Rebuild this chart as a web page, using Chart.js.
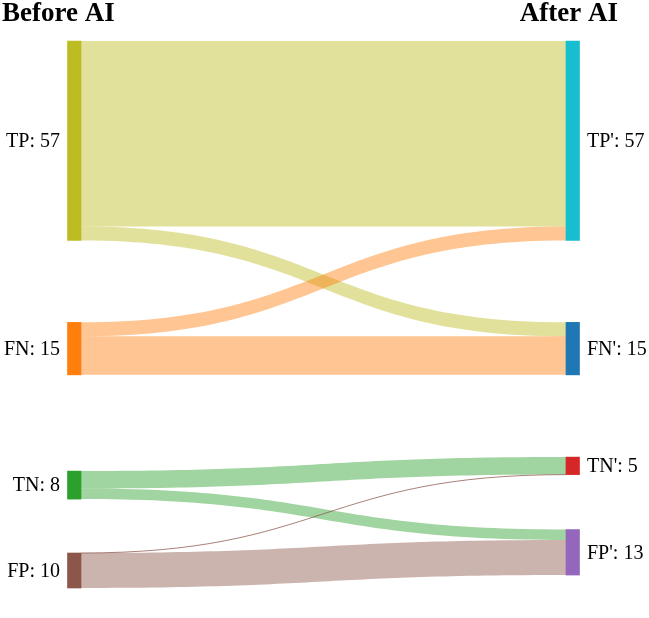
<!DOCTYPE html>
<html><head><meta charset="utf-8">
<script src="https://cdn.jsdelivr.net/npm/chart.js@4.4.1/dist/chart.umd.min.js"></script>
<style>html,body{margin:0;padding:0;background:#fff}#wrap{position:relative;width:649px;height:618px}</style>
</head><body><div id="wrap"><canvas id="c"></canvas></div>
<script>
// ---- data ----
const columnTitles = ['Before AI', 'After AI'];
const leftNodes = ['TP', 'FN', 'TN', 'FP'];
const leftValues = [57, 15, 8, 10];
const rightNodes = ["TP'", "FN'", "TN'", "FP'"];
const rightValues = [57, 15, 5, 13];
const linkSource = ['TP', 'TP', 'FN', 'FN', 'TN', 'TN', 'FP', 'FP'];
const linkTarget = ["TP'", "FN'", "TP'", "FN'", "TN'", "FP'", "TN'", "FP'"];
const linkValues = [53, 4, 4, 11, 5, 3, 0, 10];

// ---- layout / style ----
const leftGaps = [23.4, 27.5, 15.4];
const rightGaps = [23.4, 23.5, 15.7];
const leftColors = ['#bcbd22', '#ff7f0e', '#2ca02c', '#8c564b'];
const rightColors = ['#17becf', '#1f77b4', '#d62728', '#9467bd'];
const linkAlpha = 0.45;
const nodeWidth = 13.5;
const serif = '"Liberation Serif", "Times New Roman", serif';

function starts(values, gaps) {
  const out = []; let y = 0;
  values.forEach((v, i) => { out.push(y); y += v + (gaps[i] || 0); });
  return out;
}
const leftStarts = starts(leftValues, leftGaps);
const rightStarts = starts(rightValues, rightGaps);
const yMax = Math.max(leftStarts[3] + leftValues[3], rightStarts[3] + rightValues[3]);

const nodeData = [];
const nodeColors = [];
leftNodes.forEach((n, i) => { nodeData.push({x: 0, y: [leftStarts[i], leftStarts[i] + leftValues[i]]}); nodeColors.push(leftColors[i]); });
rightNodes.forEach((n, i) => { nodeData.push({x: 1, y: [rightStarts[i], rightStarts[i] + rightValues[i]]}); nodeColors.push(rightColors[i]); });

function rgba(hex, a) {
  const r = parseInt(hex.slice(1, 3), 16), g = parseInt(hex.slice(3, 5), 16), b = parseInt(hex.slice(5, 7), 16);
  return `rgba(${r},${g},${b},${a})`;
}

const sankeyPlugin = {
  id: 'sankey',
  beforeDatasetsDraw(chart) {
    const ctx = chart.ctx, xs = chart.scales.x, ys = chart.scales.y;
    const x0 = xs.getPixelForValue(0) + nodeWidth / 2;
    const x1 = xs.getPixelForValue(1) - nodeWidth / 2;
    const xm = (x0 + x1) / 2;
    const links = linkValues.map((v, i) => ({
      s: leftNodes.indexOf(linkSource[i]), t: rightNodes.indexOf(linkTarget[i]), v
    }));
    // source offsets: ordered by target
    const srcOff = leftStarts.slice();
    links.slice().sort((a, b) => a.s - b.s || a.t - b.t).forEach(l => { l.sy = srcOff[l.s]; srcOff[l.s] += l.v; });
    const tgtOff = rightStarts.slice();
    links.slice().sort((a, b) => a.t - b.t || a.s - b.s).forEach(l => { l.ty = tgtOff[l.t]; tgtOff[l.t] += l.v; });
    ctx.save();
    links.forEach(l => {
      const col = leftColors[l.s];
      const a0 = ys.getPixelForValue(l.sy), a1 = ys.getPixelForValue(l.sy + l.v);
      const b0 = ys.getPixelForValue(l.ty), b1 = ys.getPixelForValue(l.ty + l.v);
      if (l.v === 0) {
        ctx.beginPath();
        ctx.moveTo(x0, a0);
        ctx.bezierCurveTo(xm, a0, xm, b0, x1, b0);
        ctx.strokeStyle = rgba(col, 0.75);
        ctx.lineWidth = 1;
        ctx.stroke();
        return;
      }
      ctx.beginPath();
      ctx.moveTo(x0, a0);
      ctx.bezierCurveTo(xm, a0, xm, b0, x1, b0);
      ctx.lineTo(x1, b1);
      ctx.bezierCurveTo(xm, b1, xm, a1, x0, a1);
      ctx.closePath();
      ctx.fillStyle = rgba(col, linkAlpha);
      ctx.fill();
    });
    ctx.restore();
  },
  afterDatasetsDraw(chart) {
    const ctx = chart.ctx, xs = chart.scales.x, ys = chart.scales.y;
    ctx.save();
    ctx.fillStyle = '#000';
    ctx.font = '20px ' + serif;
    ctx.textBaseline = 'middle';
    ctx.textAlign = 'right';
    const lx = xs.getPixelForValue(0) - nodeWidth / 2 - 7.5;
    leftNodes.forEach((n, i) => {
      const y = ys.getPixelForValue(leftStarts[i] + leftValues[i] / 2);
      ctx.fillText(`${n}: ${leftValues[i]}`, lx, y + 1);
    });
    ctx.textAlign = 'left';
    const rx = xs.getPixelForValue(1) + nodeWidth / 2 + 7.5;
    rightNodes.forEach((n, i) => {
      const y = ys.getPixelForValue(rightStarts[i] + rightValues[i] / 2);
      ctx.fillText(`${n}: ${rightValues[i]}`, rx, y + 1);
    });
    ctx.font = 'bold 27px ' + serif;
    ctx.textBaseline = 'alphabetic';
    ctx.textAlign = 'left';
    ctx.fillText(columnTitles[0], 2, 21);
    ctx.textAlign = 'right';
    ctx.fillText(columnTitles[1], 618, 21);
    ctx.restore();
  }
};

new Chart(document.getElementById('c'), {
  type: 'bar',
  data: {
    datasets: [{
      data: nodeData,
      backgroundColor: nodeColors,
      borderWidth: 0,
      barThickness: nodeWidth,
      clip: false
    }]
  },
  options: {
    responsive: true,
    maintainAspectRatio: false,
    animation: false,
    layout: { padding: { left: 74.25, right: 76.25, top: 41, bottom: 30 } },
    scales: {
      x: { type: 'linear', min: 0, max: 1, display: false, offset: false },
      y: { type: 'linear', min: 0, max: yMax, reverse: true, display: false }
    },
    plugins: { legend: { display: false }, tooltip: { enabled: false }, title: { display: false } }
  },
  plugins: [sankeyPlugin]
});
</script></body></html>
